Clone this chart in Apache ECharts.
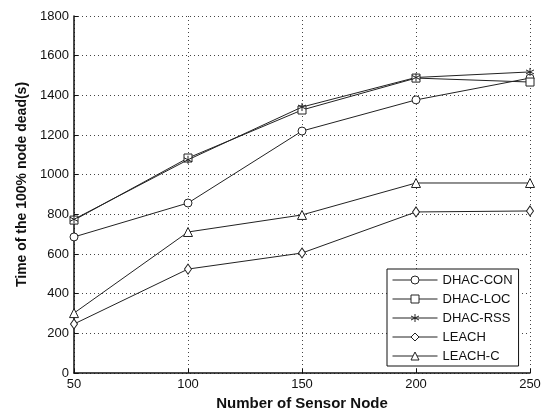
<!DOCTYPE html>
<html><head><meta charset="utf-8">
<script src="https://cdn.jsdelivr.net/npm/echarts@6/dist/echarts.min.js"></script>
<style>html,body{margin:0;padding:0;background:#fff}#c{width:544px;height:412px}</style>
</head><body><div id="c"></div>
<script>
var nodes = [50, 100, 150, 200, 250];
var dhacCon = [686, 857, 1220, 1377, 1487];
var dhacLoc = [771, 1084, 1326, 1487, 1467];
var dhacRss = [775, 1075, 1341, 1490, 1518];
var leach = [247, 524, 605, 812, 817];
var leachC = [302, 711, 797, 958, 958];
var seriesNames = ['DHAC-CON', 'DHAC-LOC', 'DHAC-RSS', 'LEACH', 'LEACH-C'];
var yTicks = {min: 0, max: 1800, interval: 200};

var star = 'path://M0,-5L0,5M-4.33,-2.5L4.33,2.5M-4.33,2.5L4.33,-2.5';
var symbols = ['circle', 'rect', star, 'diamond', 'triangle'];
var sizes = [8, 8, 8, [7, 10], 9];
var values = [dhacCon, dhacLoc, dhacRss, leach, leachC];

function pairs(v){ return nodes.map(function(x,i){return [x, v[i]];}); }

var series = seriesNames.map(function(n, k){
  return {
    name: n, type: 'line', data: pairs(values[k]),
    symbol: symbols[k], symbolSize: sizes[k],
    lineStyle: {color: '#222', width: 1},
    itemStyle: {color: k===2 ? '#222' : '#fff', borderColor: '#222', borderWidth: 1},
    emphasis: {disabled: true}, animation: false
  };
});

var font = '"Liberation Sans", Arial, sans-serif';
function plain(v){ return String(v); }
var chart = echarts.init(document.getElementById('c'), null, {renderer: 'canvas'});
chart.setOption({
  backgroundColor: '#fff',
  animation: false,
  grid: {left: 74, right: 14, top: 16, bottom: 39, containLabel: false, outerBoundsMode: 'none'},
  xAxis: {
    type: 'value', min: 50, max: 250, interval: 50,
    name: 'Number of Sensor Node', nameLocation: 'middle', nameGap: 18,
    nameTextStyle: {fontFamily: font, fontSize: 15, fontWeight: 'bold', color: '#111'},
    axisLine: {lineStyle: {color: '#111', width: 1.5}},
    axisTick: {inside: true, length: 4, lineStyle: {color: '#111'}},
    axisLabel: {fontFamily: font, fontSize: 13, color: '#111', margin: 5, formatter: plain},
    splitLine: {show: true, lineStyle: {color: '#444', type: [1, 3], width: 1}}
  },
  yAxis: {
    type: 'value', min: yTicks.min, max: yTicks.max, interval: yTicks.interval,
    name: 'Time of the 100% node dead(s)', nameLocation: 'middle', nameGap: 44,
    nameTextStyle: {fontFamily: font, fontSize: 14, fontWeight: 'bold', color: '#111', padding: [0, 0, 0, 20]},
    axisLine: {show: true, lineStyle: {color: '#111', width: 1.5}},
    axisTick: {show: true, inside: true, length: 4, lineStyle: {color: '#111'}},
    axisLabel: {fontFamily: font, fontSize: 13, color: '#111', margin: 5, formatter: plain},
    splitLine: {show: true, lineStyle: {color: '#444', type: [1, 3], width: 1}}
  },
  legend: {
    orient: 'vertical', left: 387, top: 269,
    data: seriesNames,
    itemWidth: 45, itemHeight: 10, itemGap: 5,
    padding: [4, 6, 3, 5],
    backgroundColor: '#fff', borderColor: '#111', borderWidth: 1,
    lineStyle: {width: 1, color: '#222'},
    itemStyle: {borderWidth: 1},
    textStyle: {fontFamily: font, fontSize: 13, color: '#111', lineHeight: 14}
  },
  series: series
});
</script></body></html>
